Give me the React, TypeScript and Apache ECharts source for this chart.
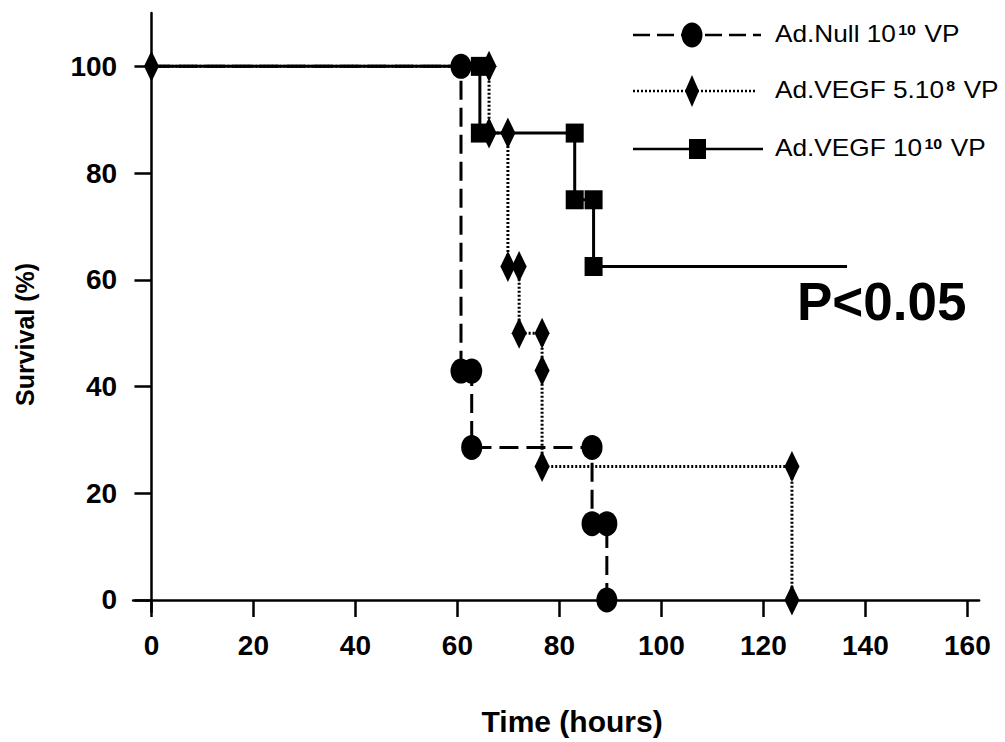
import React, { useEffect, useRef } from "react";
import * as echarts from "echarts";

// ---- Data (Kaplan–Meier step vertices) ----
const nullTime = [0, 60.7, 60.7, 62.8, 62.8, 86.4, 86.4, 89.3, 89.3];
const nullSurvival = [100, 100, 42.9, 42.9, 28.6, 28.6, 14.3, 14.3, 0];
const nullMarked = [false, true, true, true, true, true, true, true, true];

const vegfLowTime = [0, 66.2, 66.2, 69.9, 69.9, 72.1, 72.1, 76.6, 76.6, 76.6, 125.6, 125.6];
const vegfLowSurvival = [100, 100, 87.5, 87.5, 62.5, 62.5, 50, 50, 43, 25, 25, 0];
const vegfLowMarked = [true, true, true, true, true, true, true, true, true, true, true, true];

const vegfHighTime = [0, 64.4, 64.4, 83.0, 83.0, 86.7, 86.7, 136.4];
const vegfHighSurvival = [100, 100, 87.5, 87.5, 75, 75, 62.5, 62.5];
const vegfHighMarked = [false, true, true, true, true, true, true, false];

const xTicks = [0, 20, 40, 60, 80, 100, 120, 140, 160];
const yTicks = [0, 20, 40, 60, 80, 100];

const seriesNames = ["Ad.Null 10^10 VP", "Ad.VEGF 5.10^8 VP", "Ad.VEGF 10^10 VP"];
const legendLabels = [
  "{m|Ad.Null 10}{s|10}{m| VP}",
  "{m|Ad.VEGF 5.10}{s|8}{m| VP}",
  "{m|Ad.VEGF 10}{s|10}{m| VP}",
];
const pValueText = "P<0.05";

const ELLIPSE = "path://M0,-10A10,10,0,1,1,0,10A10,10,0,1,1,0,-10Z";
const FONT = "Liberation Sans, Arial, sans-serif";

function build(times: number[], surv: number[], marked: boolean[], symbol: string) {
  return times.map((t, i) => ({
    value: [t, surv[i]],
    symbol: marked[i] ? symbol : "none",
  }));
}

export default function App() {
  const ref = useRef<HTMLDivElement>(null);
  useEffect(() => {
    if (!ref.current) return;
    const chart = echarts.init(ref.current, null, { renderer: "svg" });

    const legendRowY = [35, 91, 149];
    const lineX0 = 633;
    const lineX1 = 761;
    const symX = 692;
    const textX = 775;

    const legendGraphics: any[] = [];
    legendGraphics.push({
      type: "line",
      shape: { x1: lineX0, y1: legendRowY[0], x2: lineX1, y2: legendRowY[0] },
      style: { stroke: "#000", lineWidth: 2.5, lineDash: [17, 7] },
    });
    legendGraphics.push({
      type: "ellipse",
      shape: { cx: symX, cy: legendRowY[0], rx: 10.5, ry: 12.5 },
      style: { fill: "#000" },
    });
    legendGraphics.push({
      type: "line",
      shape: { x1: lineX0, y1: legendRowY[1], x2: lineX1 - 4, y2: legendRowY[1] },
      style: { stroke: "#000", lineWidth: 2.5, lineDash: [2, 2] },
    });
    legendGraphics.push({
      type: "polygon",
      shape: {
        points: [
          [symX, legendRowY[1] - 16],
          [symX + 7, legendRowY[1]],
          [symX, legendRowY[1] + 16],
          [symX - 7, legendRowY[1]],
        ],
      },
      style: { fill: "#000" },
    });
    legendGraphics.push({
      type: "line",
      shape: { x1: lineX0, y1: legendRowY[2], x2: lineX1 + 2, y2: legendRowY[2] },
      style: { stroke: "#000", lineWidth: 2.5 },
    });
    legendGraphics.push({
      type: "rect",
      shape: { x: symX - 3, y: legendRowY[2] - 10, width: 17, height: 20 },
      style: { fill: "#000" },
    });
    legendLabels.forEach((lbl, i) => {
      legendGraphics.push({
        type: "text",
        x: textX,
        y: legendRowY[i] - 1,
        scaleX: 1.14,
        style: {
          text: lbl,
          verticalAlign: "middle",
          align: "left",
          rich: {
            m: { fontSize: 23, fontFamily: FONT, fill: "#000" },
            s: { fontSize: 14, fontWeight: "bold", fontFamily: FONT, fill: "#000", padding: [0, 1, 9, 2] },
          },
        },
      });
    });

    const lineBase = { width: 3, color: "#000" };

    chart.setOption({
      animation: false,
      backgroundColor: "#fff",
      grid: { left: 133.1, right: 25.9, top: 13, bottom: 130, containLabel: false, outerBoundsMode: "none" },
      xAxis: {
        type: "value",
        min: -3.6,
        max: 162.3,
        axisLine: { onZero: true, lineStyle: { color: "#000", width: 2.5 } },
        axisTick: { customValues: xTicks, length: 17, lineStyle: { color: "#000", width: 2.5 } },
        axisLabel: {
          customValues: xTicks,
          color: "#000",
          fontSize: 28,
          fontWeight: "bold",
          fontFamily: FONT,
          margin: 19,
        },
        splitLine: { show: false },
        name: "Time (hours)",
        nameLocation: "middle",
        nameGap: 94,
        nameTextStyle: { color: "#000", fontSize: 30, fontWeight: "bold", fontFamily: FONT, padding: [0, 0, 0, 32] },
      },
      yAxis: {
        type: "value",
        min: -2.25,
        max: 110,
        axisLine: { onZero: true, lineStyle: { color: "#000", width: 2.5 } },
        axisTick: { customValues: yTicks, length: 17, lineStyle: { color: "#000", width: 2.5 } },
        axisLabel: {
          customValues: yTicks,
          color: "#000",
          fontSize: 28,
          fontWeight: "bold",
          fontFamily: FONT,
          margin: 16,
        },
        splitLine: { show: false },
        name: "Survival (%)",
        nameLocation: "middle",
        nameGap: 96,
        nameTextStyle: { color: "#000", fontSize: 25, fontWeight: "bold", fontFamily: FONT, padding: [0, 44, 0, 0] },
      },
      series: [
        {
          name: seriesNames[0],
          type: "line",
          data: build(nullTime, nullSurvival, nullMarked, ELLIPSE),
          symbolSize: [21, 25],
          symbolKeepAspect: false,
          lineStyle: { ...lineBase, type: [19, 8] },
          itemStyle: { color: "#000" },
          clip: false,
          z: 2,
        },
        {
          name: seriesNames[2],
          type: "line",
          data: build(vegfHighTime, vegfHighSurvival, vegfHighMarked, "rect"),
          symbolSize: [18, 19],
          lineStyle: { ...lineBase, type: "solid" },
          itemStyle: { color: "#000" },
          clip: false,
          z: 3,
        },
        {
          name: seriesNames[1],
          type: "line",
          data: build(vegfLowTime, vegfLowSurvival, vegfLowMarked, "diamond"),
          symbolSize: [15, 31],
          lineStyle: { ...lineBase, type: [2, 2] },
          itemStyle: { color: "#000" },
          clip: false,
          z: 4,
        },
      ],
      graphic: [
        ...legendGraphics,
        {
          type: "text",
          x: 797,
          y: 301,
          style: {
            text: pValueText,
            fontSize: 53,
            fontWeight: "bold",
            fontFamily: FONT,
            fill: "#000",
            verticalAlign: "middle",
            align: "left",
          },
        },
      ],
    });
    return () => chart.dispose();
  }, []);

  return (
    <div
      ref={ref}
      style={{ position: "fixed", left: 0, top: 0, width: 1005, height: 742, background: "#fff" }}
    />
  );
}
